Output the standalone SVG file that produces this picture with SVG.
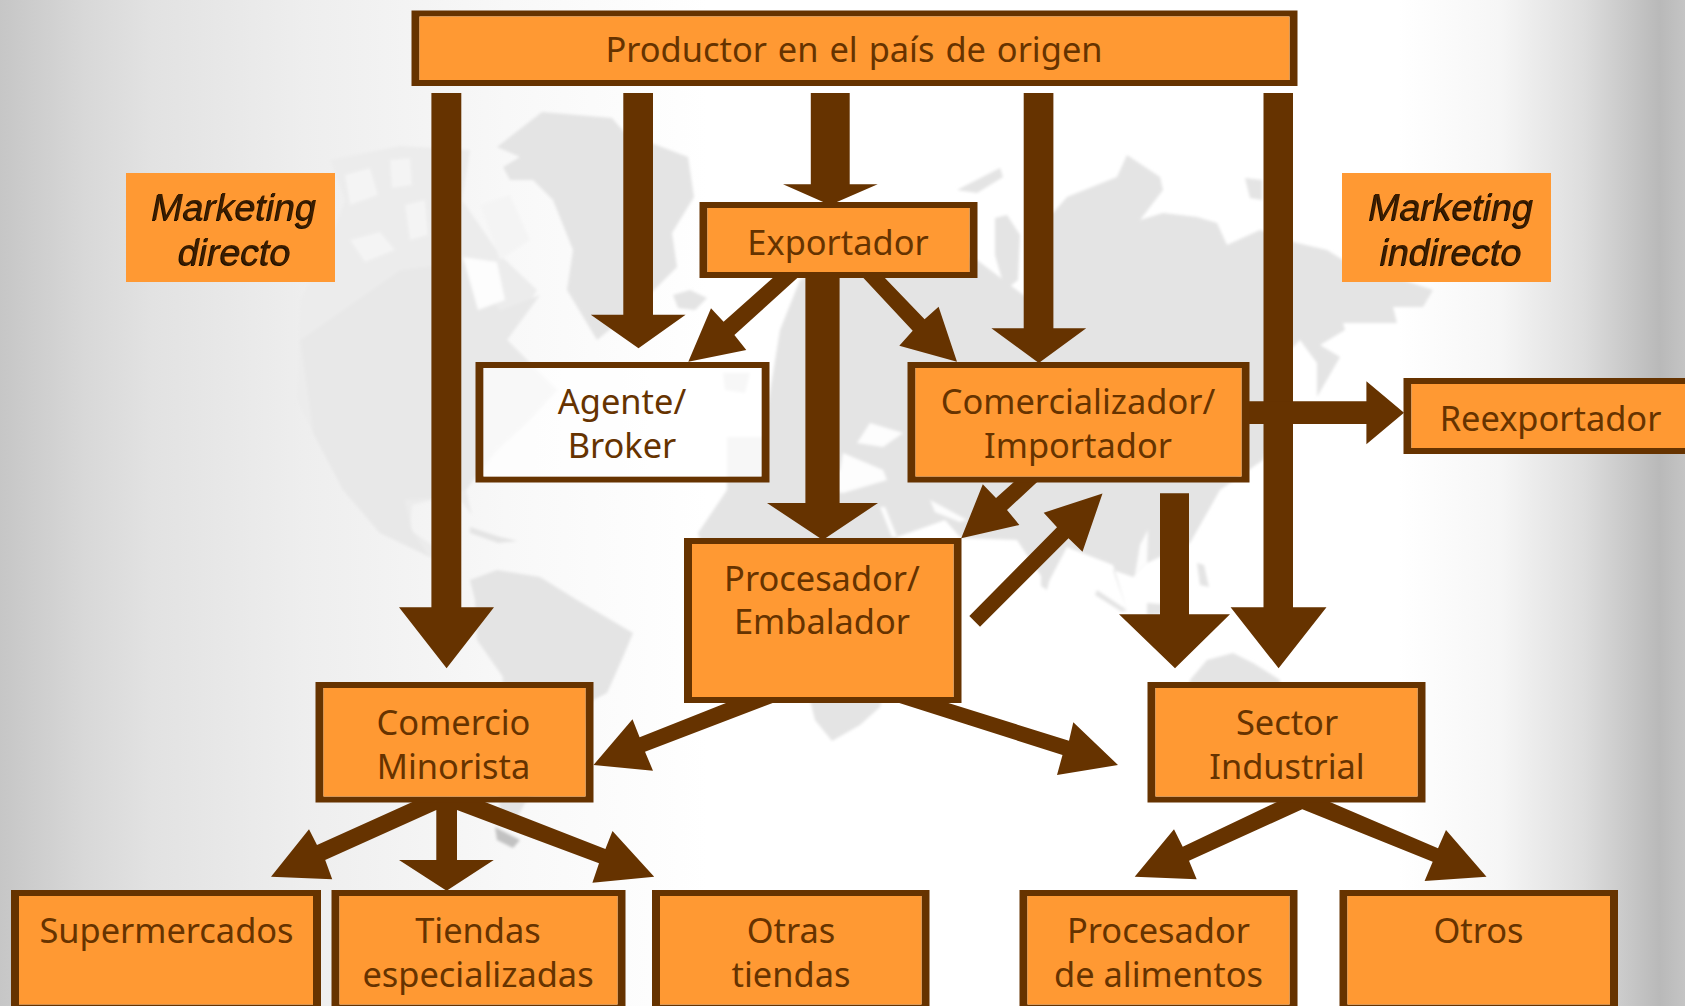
<svg xmlns="http://www.w3.org/2000/svg" width="1685" height="1006" viewBox="0 0 1685 1006">
<defs>
<linearGradient id="bg" x1="0" x2="1685" y1="0" y2="0" gradientUnits="userSpaceOnUse">
<stop offset="0" stop-color="#c6c6c6"/><stop offset="0.05" stop-color="#d8d8d8"/><stop offset="0.09" stop-color="#e2e2e2"/><stop offset="0.18" stop-color="#eeeeee"/><stop offset="0.3" stop-color="#f8f8f8"/><stop offset="0.42" stop-color="#ffffff"/><stop offset="0.83" stop-color="#ffffff"/><stop offset="0.89" stop-color="#f6f6f6"/><stop offset="0.94" stop-color="#dddddd"/><stop offset="0.985" stop-color="#b9b9b9"/><stop offset="1" stop-color="#c4c4c4"/>
</linearGradient>
<filter id="soft" x="-5%" y="-5%" width="110%" height="110%"><feGaussianBlur stdDeviation="1.5"/></filter>
<style>
.land{fill:#e4e4e4}
.na{fill:#e8e8e8}
.sea{fill:#fdfdfd}
.mot{fill:#f4f4f4}
.lite{fill:#ececec}
.b{fill:#663300;fill-rule:evenodd}
.f{fill:#ff9933}
.a{fill:#663300}
.t{font-family:"Noto Sans","DejaVu Sans",sans-serif;font-size:34.4px;fill:#663300;text-anchor:middle}
.m{font-family:"Liberation Sans",Arial,sans-serif;font-size:37.5px;font-style:italic;fill:#3a1d00;text-anchor:middle;filter:drop-shadow(-1px 1px 0.3px #1a0d00)}
</style>
</defs>
<rect id="background" width="1685" height="1006" fill="url(#bg)"/>
<g id="map" filter="url(#soft)">
<path class="lite" d="M345 200L330 160L400 146L470 150L462 200L500 255L537 290L507 340L557 390L527 423L497 450L466 490L472 515L460 500L432 500L412 505L410 530L432 545L440 560L430 557L380 533L343 490L313 433L297 400L300 300L327 250Z"/>
<path class="na" d="M400 270L463 262L500 310L540 295L507 340L557 390L527 423L497 450L466 490L440 498L405 500L412 530L430 557L380 533L343 490L313 433L300 340Z"/>
<path class="mot" d="M350 240L380 232L395 250L365 262Z"/>
<path class="mot" d="M405 205L425 200L428 235L410 240Z"/>
<path class="mot" d="M345 175L370 168L378 195L350 205Z"/>
<path class="mot" d="M390 160L410 158L412 185L392 188Z"/>
<path class="mot" d="M480 205L510 195L530 240L500 260Z"/>
<path class="sea" d="M463 257L497 262L505 300L478 310Z"/>
<path class="land" d="M497 147L542 112L612 118L625 133L688 157L694 197L672 233L677 267L634 310L597 340L567 290L573 250L553 200L533 180L510 180L503 167L520 157Z"/>
<path class="land" d="M673 295L690 290L707 298L695 310L678 308Z"/>
<path class="land" d="M470 580L497 570L540 577L577 600L633 633L623 657L607 693L593 700L570 760L525 803L510 830L500 810L497 770L503 677L477 640L475 600Z"/>
<path fill="#c2c2c2" d="M495 827L520 840L513 848L497 840Z"/>
<path class="land" d="M470 527L500 537L518 541L498 543L470 533Z"/>
<path class="land" d="M723 373L750 373L745 393L725 390Z"/>
<path class="land" d="M957 190L1000 168L1003 177L977 193Z"/>
<path class="land" d="M995 218L1007 215L1020 235L1018 280L1005 290L995 255Z"/>
<path class="land" d="M1245 178L1262 180L1262 200L1250 198Z"/>
<path class="land" d="M1053 213L1067 197L1117 177L1127 155L1160 177L1163 190L1140 220L1163 213L1197 217L1217 223L1227 245L1260 230L1297 243L1327 250L1343 260L1433 290L1423 307L1393 307L1397 323L1343 323L1345 330L1320 345L1340 357L1317 397L1317 363L1300 340L1290 350L1263 460L1220 490L1190 543L1147 563L1133 577L1113 570L1127 610L1113 565L1067 547L1047 585L1037 570L1017 540L961 538L945 520L897 537L900 600L880 707L860 725L832 741L815 720L805 680L720 610L698 533L727 490L727 437L763 437L773 373L780 330L800 280L850 250L930 250L977 260L1030 300L1040 215Z"/>
<path class="sea" d="M843 453L883 470L887 480L843 493L810 488L840 470Z"/>
<path class="sea" d="M857 443L870 423L903 433L883 447Z"/>
<path class="sea" d="M880 507L885 507L897 537L892 537Z"/>
<path class="sea" d="M930 500L945 508L967 520L960 522L935 512Z"/>
<path class="sea" d="M1140 545L1148 530L1147 563L1135 575Z"/>
<path class="land" d="M1041 575L1050 578L1047 590L1041 586Z"/>
<path class="land" d="M1097 590L1127 610L1122 612L1095 595Z"/>
<path class="land" d="M1147 603L1172 605L1170 614L1147 615Z"/>
<path class="land" d="M1197 563L1204 565L1209 587L1200 585Z"/>
<path class="land" d="M1190 680L1207 660L1233 653L1253 663L1280 680L1280 700L1190 700Z"/>
</g>
<g id="connectors">
<path class="a" d="M431.4 93H461.3V607.3H494L446.6 668.3L399 607.3H431.4Z"/>
<path class="a" d="M623.3 93H653V314.7H685.6L638.5 348.3L590.8 314.7H623.3Z"/>
<path class="a" d="M810.8 93H849.7V184.3H877.7L830 205L783 184.3H810.8Z"/>
<path class="a" d="M1023.7 93H1053.4V328.3H1086.2L1038.8 363L991.4 328.3H1023.7Z"/>
<path class="a" d="M1263.5 93H1293V607.3H1326.5L1278.6 668.3L1230.6 607.3H1263.5Z"/>
<path class="a" d="M805.4 278H839.6V503H878L822.8 540L767 503H805.4Z"/>
<path class="a" d="M775 276H799.5L734.4 335L746.3 350L688.3 361.7L711 308.3L723.6 321.7Z"/>
<path class="a" d="M861.6 276H883L924.6 319.3L938.6 306.7L957 361.7L899.3 345.7L912.7 330.7Z"/>
<path class="a" d="M1015 481H1038.3L1007 510L1019.4 525L961.2 538.3L982.8 484.3L996 498Z"/>
<path class="a" d="M969.3 616L980 626.7L1068.5 538.3L1082.5 551.7L1102.5 493.5L1043.7 512.7L1057 527.3Z"/>
<path class="a" d="M1160 493.3H1189V614.3H1230L1175 668.3L1119 614.3H1160Z"/>
<path class="a" d="M1248 401.3H1366.4V381.3L1404 412.8L1366.4 444.3V424H1248Z"/>
<path class="a" d="M731 701H778L645 751.7L653 770.7L593.5 765L632.5 719.3L639.6 737.3Z"/>
<path class="a" d="M893 701H942L1069 740.7L1073.3 722.3L1118 765L1057 775L1062.5 755Z"/>
<path class="a" d="M414.6 801H482.4L605.4 849L612.5 831L654.2 876.7L592.4 882.7L599 863.3L457 810V860H493.8L446.6 890.7L399 860H436.3V810L325.2 860L332.2 879.3L271 876.7L309 829.3L317 845Z"/>
<path class="a" d="M1279 801H1327.6L1438 848.3L1446 830L1486.5 876.7L1424.6 881L1432.7 861.7L1302.3 809.3L1189 860.7L1196.7 879.3L1134.7 876.7L1174 829.3L1182.7 846.7Z"/>
</g>
<g id="productor"><path class="b" d="M411.5 10.5H1297.5V86H411.5ZM419.5 16.5V80H1289.5V16.5Z"/><rect class="f" x="419.5" y="16.5" width="870" height="63.5"/><text class="t" x="854" y="62" word-spacing="2">Productor en el país de origen</text></g>
<g id="exportador"><path class="b" d="M699.5 202H977.5V278H699.5ZM707.5 208V272H969.5V208Z"/><rect class="f" x="707.5" y="208" width="262" height="64"/><text class="t" x="838" y="255">Exportador</text></g>
<g id="agente"><path class="b" d="M475.5 362H769.5V482.5H475.5ZM483.5 368V476.5H761.5V368Z"/><rect x="483.5" y="368" width="278" height="108.5" fill="#fff" fill-opacity=".7"/><text class="t" x="622" y="414">Agente/</text><text class="t" x="622" y="458">Broker</text></g>
<g id="comercializador"><path class="b" d="M907.5 362H1249.5V482.5H907.5ZM915.5 368V476.5H1241.5V368Z"/><rect class="f" x="915.5" y="368" width="326" height="108.5"/><text class="t" x="1078" y="414">Comercializador/</text><text class="t" x="1078" y="458">Importador</text></g>
<g id="reexportador"><path class="b" d="M1403.5 378H1693V454H1403.5ZM1411.5 384V448H1691V384Z"/><rect class="f" x="1411.5" y="384" width="279.5" height="64"/><text class="t" x="1550.5" y="430.5">Reexportador</text></g>
<g id="procesador-embalador"><path class="b" d="M684 538H961.5V703H684ZM692 544V697H953.5V544Z"/><rect class="f" x="692" y="544" width="261.5" height="153"/><text class="t" x="822" y="590.5">Procesador/</text><text class="t" x="822" y="634">Embalador</text></g>
<g id="comercio"><path class="b" d="M315.5 682H593.5V802.5H315.5ZM323.5 688V796.5H585.5V688Z"/><rect class="f" x="323.5" y="688" width="262" height="108.5"/><text class="t" x="453.5" y="735">Comercio</text><text class="t" x="453.5" y="778.5">Minorista</text></g>
<g id="sector"><path class="b" d="M1147.5 682H1425.5V802.5H1147.5ZM1155.5 688V796.5H1417.5V688Z"/><rect class="f" x="1155.5" y="688" width="262" height="108.5"/><text class="t" x="1287" y="735">Sector</text><text class="t" x="1287" y="778.5">Industrial</text></g>
<g id="supermercados"><path class="b" d="M11 890H321V1008H11ZM19 896V1004.5H313V896Z"/><rect class="f" x="19" y="896" width="294" height="108.5"/><text class="t" x="166.5" y="942.5">Supermercados</text></g>
<g id="tiendas"><path class="b" d="M331.5 890H625.5V1008H331.5ZM339.5 896V1004.5H617.5V896Z"/><rect class="f" x="339.5" y="896" width="278" height="108.5"/><text class="t" x="478" y="942.5">Tiendas</text><text class="t" x="478" y="986.5">especializadas</text></g>
<g id="otras"><path class="b" d="M652 890H929.5V1008H652ZM660 896V1004.5H921.5V896Z"/><rect class="f" x="660" y="896" width="261.5" height="108.5"/><text class="t" x="791" y="942.5">Otras</text><text class="t" x="791" y="986.5">tiendas</text></g>
<g id="procesador-alimentos"><path class="b" d="M1019.5 890H1297.5V1008H1019.5ZM1027.5 896V1004.5H1289.5V896Z"/><rect class="f" x="1027.5" y="896" width="262" height="108.5"/><text class="t" x="1158.5" y="942.5">Procesador</text><text class="t" x="1158.5" y="986.5">de alimentos</text></g>
<g id="otros"><path class="b" d="M1339.5 890H1618V1008H1339.5ZM1347.5 896V1004.5H1610V896Z"/><rect class="f" x="1347.5" y="896" width="262.5" height="108.5"/><text class="t" x="1478.5" y="942.5">Otros</text></g>
<g id="marketing-directo"><rect class="f" x="126" y="173" width="209" height="109"/><text class="m" x="234" y="220">Marketing</text><text class="m" x="234.5" y="265">directo</text></g>
<g id="marketing-indirecto"><rect class="f" x="1342" y="173" width="209" height="109"/><text class="m" x="1451" y="220">Marketing</text><text class="m" x="1451" y="265">indirecto</text></g>
</svg>
